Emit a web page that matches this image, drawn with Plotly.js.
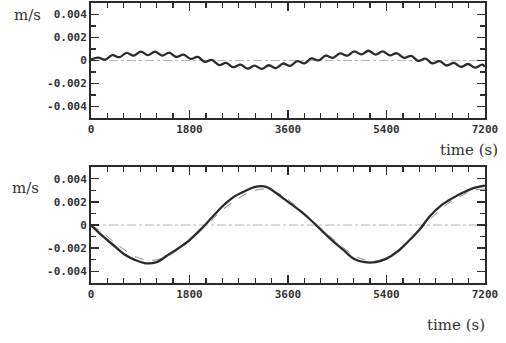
<!DOCTYPE html>
<html>
<head>
<meta charset="utf-8">
<script src="https://cdn.plot.ly/plotly-3.0.1.min.js"></script>
<style>html,body{margin:0;padding:0;background:#fff;}#chart{width:506px;height:343px;}</style>
</head>
<body>
<div id="chart"></div>
<script>
// Top panel: velocity (m/s) with small oscillations
const topTime = [0,130,260,390,520,650,780,910,1040,1170,1300,1430,1560,1690,1820,1950,2080,2210,2340,2470,2600,2730,2860,2990,3120,3250,3380,3510,3640,3770,3900,4030,4160,4290,4420,4550,4680,4810,4940,5070,5200,5330,5460,5590,5720,5850,5980,6110,6240,6370,6500,6630,6760,6890,7020,7150,7200];
const topVel = [0.0001,0.00026,0.00007,0.00047,0.00029,0.00067,0.00042,0.00077,0.00047,0.00077,0.00043,0.00068,0.00031,0.00052,0.00014,0.00031,-0.00011,0.00005,-0.00039,-0.0002,-0.00058,-0.00036,-0.0007,-0.00045,-0.00073,-0.00041,-0.00065,-0.00026,-0.00047,-0.00005,-0.00025,0.00018,0.00001,0.00042,0.00023,0.00063,0.00042,0.0008,0.00053,0.00085,0.00052,0.00079,0.00045,0.00063,0.00023,0.0004,-0.00003,0.00016,-0.00025,-0.00005,-0.00043,-0.00021,-0.00055,-0.0003,-0.00062,-0.00035,-0.00055];

// Bottom panel: two series
const botTime = [0,200,400,600,800,1000,1200,1400,1600,1800,2000,2200,2400,2600,2800,3000,3200,3400,3600,3800,4000,4200,4400,4600,4800,5000,5200,5400,5600,5800,6000,6200,6400,6600,6800,7000,7200];
const botSolid = [0,-0.0009,-0.0017,-0.0025,-0.003,-0.0033,-0.0032,-0.0026,-0.002,-0.0013,-0.0004,0.0006,0.0016,0.0024,0.0029,0.0033,0.0033,0.0027,0.002,0.0013,0.0005,-0.0004,-0.0013,-0.0021,-0.0029,-0.0032,-0.0032,-0.0029,-0.0023,-0.0014,-0.0004,0.0008,0.0017,0.0023,0.0028,0.0032,0.0034];
const botDashed = [0,-0.0006,-0.0014,-0.0021,-0.0027,-0.003,-0.003,-0.0027,-0.0021,-0.0014,-0.0005,0.0004,0.0013,0.002,0.0026,0.003,0.0031,0.0028,0.0022,0.0014,0.0006,-0.0003,-0.0011,-0.0019,-0.0026,-0.003,-0.0031,-0.0028,-0.0022,-0.0014,-0.0005,0.0005,0.0014,0.0021,0.0026,0.003,0.0031];

const zeroX = [0,7200];
const zeroY = [0,0];

const xTickVals = [0,1800,3600,5400,7200];
const xTickText = ['0','1800','3600','5400','7200'];
const yTickVals = [-0.004,-0.002,0,0.002,0.004];
const yTickText = ['-0.004','-0.002','0','0.002','0.004'];

const dark = '#2b2b2b';
const tickFont = {family:'DejaVu Sans Mono', size:11, color:'#333', weight:'bold'};
const labFont = {family:'DejaVu Serif', size:15, color:'#333'};

function xAxis(anchor){
  return {anchor:anchor, range:[0,7200], showgrid:false, zeroline:false,
    showline:true, linewidth:2, linecolor:dark, mirror:'ticks',
    ticks:'inside', ticklen:8, tickwidth:1.5, tickcolor:dark,
    tickmode:'array', tickvals:xTickVals, ticktext:xTickText, tickfont:tickFont,
    minor:{ticks:'inside', dtick:300, tick0:0, ticklen:5, tickwidth:1.2, tickcolor:dark}};
}
function yAxis(anchor, domain){
  return {anchor:anchor, domain:domain, range:[-0.005,0.005], showgrid:false, zeroline:false,
    showline:true, linewidth:2, linecolor:dark, mirror:'ticks',
    ticks:'inside', ticklen:8, tickwidth:1.5, tickcolor:dark,
    tickmode:'array', tickvals:yTickVals, ticktext:yTickText, tickfont:tickFont,
    minor:{ticks:'inside', dtick:0.001, tick0:0, ticklen:5, tickwidth:1.2, tickcolor:dark}};
}

const traces = [
  {x:zeroX, y:zeroY, xaxis:'x', yaxis:'y', mode:'lines', line:{color:'#b5b5b5', width:1, dash:'dashdot'}, hoverinfo:'skip'},
  {x:topTime, y:topVel, xaxis:'x', yaxis:'y', mode:'lines', line:{color:dark, width:2.3, shape:'spline', smoothing:1}},
  {x:zeroX, y:zeroY, xaxis:'x2', yaxis:'y2', mode:'lines', line:{color:'#b5b5b5', width:1, dash:'dashdot'}, hoverinfo:'skip'},
  {x:botTime, y:botDashed, xaxis:'x2', yaxis:'y2', mode:'lines', line:{color:'#8a8a8a', width:1, dash:'dash', shape:'spline'}},
  {x:botTime, y:botSolid, xaxis:'x2', yaxis:'y2', mode:'lines', line:{color:dark, width:2.3, shape:'spline'}}
];

const layout = {
  width:506, height:343,
  margin:{l:91, r:21, t:3, b:60},
  paper_bgcolor:'#fff', plot_bgcolor:'#fff',
  showlegend:false,
  xaxis: xAxis('y'),
  yaxis: yAxis('x', [0.589, 1.0]),
  xaxis2: xAxis('y2'),
  yaxis2: yAxis('x2', [0, 0.414]),
  annotations:[
    {text:'m/s', xref:'paper', yref:'paper', x:-0.16, y:0.957, xanchor:'center', yanchor:'middle', showarrow:false, font:labFont},
    {text:'m/s', xref:'paper', yref:'paper', x:-0.165, y:0.339, xanchor:'center', yanchor:'middle', showarrow:false, font:labFont},
    {text:'time (s)', xref:'paper', yref:'paper', x:1.038, y:0.475, xanchor:'right', yanchor:'middle', showarrow:false, font:labFont},
    {text:'time (s)', xref:'paper', yref:'paper', x:1.005, y:-0.15, xanchor:'right', yanchor:'middle', showarrow:false, font:labFont}
  ]
};

Plotly.newPlot('chart', traces, layout, {displayModeBar:false, staticPlot:true});
</script>
</body>
</html>
